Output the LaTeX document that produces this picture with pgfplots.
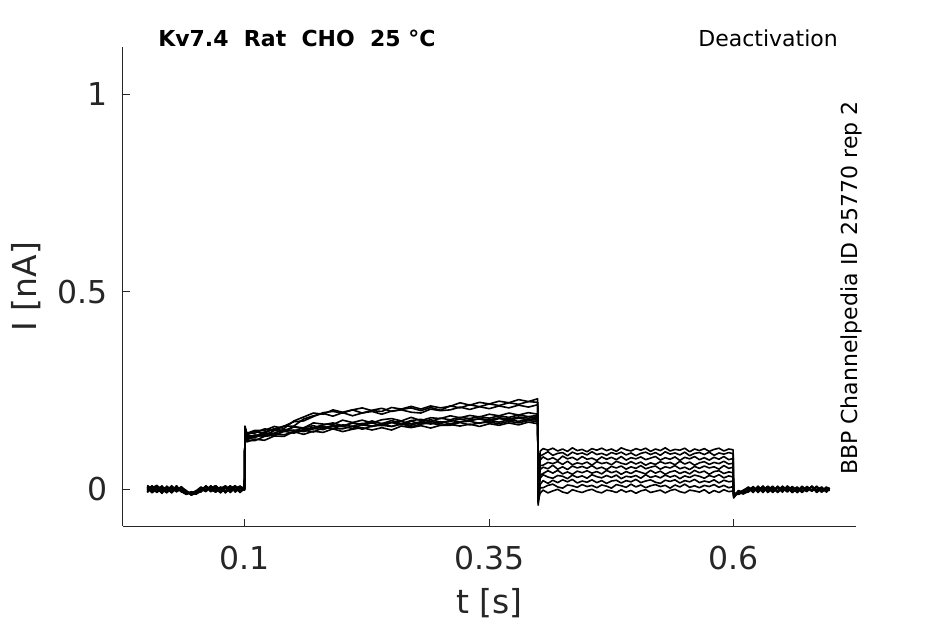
\documentclass[border=0pt]{standalone}
\usepackage{pgfplots}
\pgfplotsset{compat=1.18}
\usepackage{pgfplotstable}
\usepackage{fontspec}
\setmainfont{DejaVu Sans}
\definecolor{axgray}{HTML}{262626}

\pgfplotstableread{
t a b c d e f g h i j
0.000 0.006 -0.004 0.009 0.000 -0.007 0.003 0.010 -0.008 0.005 -0.002
0.005 -0.005 0.008 -0.002 0.007 0.004 -0.009 0.001 0.006 -0.006 0.009
0.010 0.003 -0.007 0.006 -0.004 0.010 0.002 -0.008 0.003 0.008 -0.005
0.015 -0.009 0.002 -0.005 0.009 -0.003 0.007 0.005 -0.010 0.000 0.006
0.020 0.008 -0.003 0.003 -0.008 0.006 -0.005 -0.002 0.004 -0.009 0.001
0.025 -0.002 0.009 -0.008 0.002 -0.009 0.008 0.007 -0.004 0.006 -0.008
0.030 0.005 -0.006 0.007 -0.006 0.003 -0.002 -0.006 0.009 -0.003 0.004
0.035 -0.006 0.003 -0.003 0.005 -0.005 0.004 0.003 -0.007 0.007 -0.006
0.040 -0.004 -0.009 -0.010 -0.003 -0.012 -0.006 -0.011 -0.005 -0.008 -0.013
0.045 -0.013 -0.007 -0.011 -0.015 -0.006 -0.012 -0.009 -0.014 -0.010 -0.007
0.050 -0.006 -0.012 -0.004 -0.009 -0.011 -0.003 -0.010 -0.006 -0.012 -0.008
0.055 0.004 -0.005 0.006 -0.002 0.001 -0.007 0.005 -0.003 0.002 -0.004
0.060 -0.003 0.007 -0.004 0.008 -0.006 0.005 -0.002 0.007 -0.005 0.009
0.065 0.007 -0.002 0.008 -0.005 0.009 -0.003 0.008 -0.006 0.004 -0.001
0.070 -0.007 0.005 -0.006 0.003 -0.004 0.009 -0.005 0.002 0.009 -0.007
0.075 0.002 -0.008 0.004 -0.009 0.005 -0.001 0.006 -0.008 -0.003 0.005
0.080 0.009 0.003 -0.007 0.006 -0.008 0.006 -0.004 0.005 0.006 -0.009
0.085 -0.004 0.008 0.002 -0.003 0.007 -0.008 0.009 -0.002 -0.007 0.003
0.090 0.005 -0.005 0.009 0.004 -0.002 0.004 -0.007 0.008 0.003 0.008
0.095 -0.008 0.006 -0.003 -0.007 0.008 -0.005 0.003 -0.006 0.008 -0.004
0.0995 0.003 -0.002 0.005 0.002 0.000 0.006 -0.002 0.004 0.001 -0.001
0.1000 0.145 0.150 0.148 0.155 0.152 0.158 0.150 0.156 0.160 0.154
0.1020 0.120 0.124 0.126 0.128 0.131 0.132 0.136 0.138 0.141 0.142
0.110 0.127 0.123 0.132 0.137 0.131 0.137 0.134 0.146 0.142 0.149
0.120 0.124 0.134 0.139 0.134 0.142 0.135 0.145 0.143 0.153 0.149
0.130 0.135 0.141 0.136 0.137 0.142 0.149 0.153 0.153 0.149 0.159
0.140 0.134 0.138 0.147 0.148 0.152 0.146 0.148 0.160 0.160 0.154
0.150 0.146 0.145 0.142 0.150 0.147 0.158 0.159 0.160 0.171 0.173
0.160 0.139 0.150 0.151 0.146 0.156 0.153 0.155 0.178 0.173 0.183
0.170 0.147 0.145 0.154 0.153 0.161 0.156 0.168 0.186 0.184 0.193
0.180 0.144 0.156 0.151 0.160 0.154 0.163 0.165 0.192 0.194 0.190
0.190 0.153 0.154 0.160 0.153 0.162 0.168 0.164 0.185 0.197 0.201
0.200 0.146 0.153 0.159 0.163 0.159 0.161 0.175 0.194 0.193 0.195
0.210 0.152 0.160 0.154 0.159 0.169 0.167 0.169 0.186 0.201 0.201
0.220 0.156 0.152 0.163 0.167 0.163 0.165 0.175 0.193 0.193 0.206
0.230 0.150 0.160 0.159 0.159 0.168 0.173 0.168 0.197 0.200 0.199
0.240 0.156 0.162 0.167 0.165 0.161 0.166 0.176 0.190 0.205 0.197
0.250 0.150 0.159 0.159 0.169 0.169 0.174 0.179 0.198 0.197 0.207
0.260 0.160 0.166 0.165 0.163 0.172 0.166 0.173 0.201 0.202 0.203
0.270 0.156 0.158 0.162 0.172 0.165 0.174 0.182 0.195 0.206 0.210
0.280 0.161 0.165 0.170 0.166 0.171 0.177 0.174 0.193 0.199 0.203
0.290 0.155 0.168 0.165 0.172 0.176 0.171 0.181 0.203 0.207 0.211
0.300 0.162 0.162 0.171 0.166 0.170 0.180 0.179 0.199 0.200 0.206
0.310 0.164 0.162 0.166 0.175 0.172 0.176 0.186 0.201 0.211 0.210
0.320 0.160 0.169 0.171 0.170 0.178 0.182 0.181 0.208 0.206 0.219
0.330 0.165 0.163 0.172 0.176 0.173 0.179 0.187 0.202 0.214 0.213
0.340 0.159 0.168 0.167 0.178 0.179 0.184 0.183 0.209 0.209 0.220
0.350 0.166 0.170 0.174 0.172 0.176 0.180 0.190 0.204 0.216 0.216
0.360 0.162 0.166 0.170 0.179 0.181 0.186 0.186 0.211 0.212 0.223
0.370 0.168 0.172 0.176 0.175 0.178 0.182 0.193 0.206 0.219 0.219
0.380 0.163 0.168 0.172 0.180 0.183 0.188 0.188 0.213 0.215 0.227
0.390 0.170 0.174 0.177 0.176 0.180 0.184 0.194 0.208 0.222 0.222
0.3995 0.166 0.171 0.175 0.181 0.184 0.187 0.190 0.214 0.220 0.229
0.4000 -0.030 -0.025 -0.040 -0.020 -0.035 -0.015 -0.028 -0.010 -0.032 -0.018
0.4020 -0.010 0.004 0.012 0.028 0.036 0.050 0.060 0.074 0.084 0.096
0.405 -0.002 0.004 0.022 0.037 0.040 0.056 0.061 0.082 0.088 0.103
0.410 -0.009 0.010 0.015 0.031 0.047 0.052 0.068 0.075 0.095 0.099
0.415 -0.004 0.013 0.023 0.028 0.041 0.061 0.065 0.080 0.086 0.104
0.420 0.000 0.006 0.017 0.035 0.048 0.051 0.070 0.073 0.091 0.097
0.425 -0.007 0.003 0.024 0.033 0.039 0.057 0.063 0.084 0.093 0.102
0.430 -0.010 0.011 0.019 0.027 0.044 0.050 0.071 0.077 0.085 0.096
0.435 -0.001 0.009 0.025 0.036 0.038 0.059 0.062 0.081 0.094 0.105
0.440 -0.005 0.005 0.016 0.030 0.046 0.054 0.067 0.074 0.089 0.098
0.445 -0.008 0.012 0.021 0.034 0.042 0.058 0.064 0.083 0.092 0.101
0.450 -0.003 0.007 0.018 0.028 0.047 0.053 0.069 0.076 0.087 0.095
0.455 0.000 0.010 0.024 0.037 0.041 0.060 0.061 0.079 0.095 0.103
0.460 -0.006 0.004 0.017 0.032 0.045 0.052 0.070 0.073 0.088 0.099
0.465 -0.009 0.011 0.022 0.029 0.039 0.056 0.065 0.082 0.091 0.104
0.470 -0.002 0.008 0.015 0.035 0.048 0.050 0.068 0.076 0.086 0.098
0.475 -0.004 0.003 0.021 0.030 0.042 0.058 0.062 0.081 0.093 0.102
0.480 -0.008 0.012 0.023 0.036 0.046 0.054 0.071 0.075 0.089 0.096
0.485 -0.001 0.009 0.016 0.027 0.038 0.059 0.066 0.083 0.094 0.105
0.490 -0.007 0.005 0.022 0.033 0.045 0.051 0.063 0.074 0.087 0.100
0.495 -0.003 0.013 0.019 0.031 0.040 0.057 0.070 0.080 0.092 0.097
0.500 -0.010 0.006 0.025 0.035 0.047 0.053 0.064 0.077 0.085 0.103
0.505 -0.004 0.011 0.017 0.028 0.043 0.060 0.069 0.082 0.091 0.099
0.510 -0.001 0.004 0.021 0.037 0.039 0.052 0.061 0.075 0.094 0.104
0.515 -0.008 0.009 0.024 0.030 0.048 0.056 0.067 0.079 0.088 0.096
0.520 -0.005 0.012 0.018 0.034 0.041 0.059 0.063 0.083 0.093 0.102
0.525 -0.002 0.007 0.015 0.029 0.046 0.051 0.070 0.074 0.086 0.098
0.530 -0.009 0.010 0.023 0.036 0.038 0.057 0.065 0.080 0.095 0.105
0.535 -0.003 0.003 0.020 0.031 0.044 0.054 0.068 0.076 0.089 0.097
0.540 0.000 0.011 0.024 0.035 0.047 0.060 0.062 0.082 0.092 0.101
0.545 -0.006 0.006 0.016 0.027 0.040 0.052 0.071 0.073 0.087 0.099
0.550 -0.009 0.013 0.022 0.034 0.045 0.056 0.064 0.081 0.094 0.104
0.555 -0.002 0.005 0.019 0.030 0.039 0.050 0.069 0.077 0.085 0.095
0.560 -0.004 0.009 0.025 0.036 0.048 0.058 0.061 0.083 0.091 0.102
0.565 -0.007 0.004 0.017 0.033 0.042 0.053 0.067 0.075 0.093 0.098
0.570 -0.001 0.010 0.021 0.028 0.046 0.059 0.070 0.080 0.088 0.103
0.575 -0.010 0.007 0.018 0.035 0.038 0.054 0.063 0.074 0.094 0.096
0.580 -0.003 0.012 0.024 0.031 0.045 0.057 0.068 0.081 0.086 0.101
0.585 -0.008 0.005 0.016 0.037 0.047 0.051 0.065 0.076 0.092 0.104
0.590 -0.001 0.010 0.023 0.029 0.040 0.060 0.071 0.083 0.089 0.097
0.595 -0.006 0.004 0.019 0.034 0.044 0.053 0.064 0.075 0.093 0.102
0.5995 -0.004 0.007 0.021 0.031 0.042 0.056 0.066 0.078 0.090 0.100
0.6000 -0.015 -0.020 -0.012 -0.022 -0.010 -0.018 -0.014 -0.020 -0.011 -0.016
0.605 -0.009 -0.004 -0.012 -0.006 -0.010 -0.003 -0.011 -0.007 -0.013 -0.005
0.610 -0.003 -0.010 -0.005 -0.011 -0.002 -0.009 -0.004 -0.012 -0.006 -0.008
0.615 0.004 -0.006 0.002 -0.003 0.005 -0.007 0.003 -0.002 0.006 -0.004
0.620 -0.006 0.005 -0.007 0.006 -0.004 0.004 -0.008 0.005 -0.003 0.007
0.625 0.007 -0.003 0.005 -0.008 0.008 -0.002 0.006 -0.007 0.004 -0.006
0.630 -0.004 0.008 -0.002 0.004 -0.007 0.007 -0.003 0.008 -0.008 0.003
0.635 0.005 -0.007 0.008 -0.002 0.003 -0.008 0.007 -0.004 0.007 -0.002
0.640 -0.008 0.002 -0.005 0.007 -0.006 0.003 -0.006 0.006 -0.002 0.008
0.645 0.003 -0.005 0.006 -0.006 0.008 -0.006 0.004 -0.008 0.005 -0.007
0.650 -0.005 0.007 -0.003 0.003 -0.003 0.008 -0.007 0.003 -0.006 0.004
0.655 0.008 -0.002 0.004 -0.007 0.005 -0.004 0.008 -0.005 0.008 -0.003
0.660 -0.002 0.006 -0.008 0.005 -0.008 0.005 -0.002 0.007 -0.004 0.006
0.665 0.006 -0.008 0.003 -0.004 0.002 -0.007 0.005 -0.003 0.003 -0.008
0.670 -0.007 0.004 -0.006 0.008 -0.005 0.002 -0.008 0.004 -0.007 0.005
0.675 0.004 -0.004 0.007 -0.003 0.007 -0.005 0.003 -0.006 0.006 -0.002
0.680 -0.003 0.008 -0.004 0.006 -0.002 0.007 -0.005 0.008 -0.003 0.007
0.685 0.007 -0.006 0.005 -0.008 0.006 -0.003 0.007 -0.002 0.008 -0.005
0.690 -0.006 0.003 -0.007 0.002 -0.007 0.006 -0.004 0.005 -0.005 0.003
0.695 0.005 -0.005 0.002 -0.005 0.004 -0.006 0.006 -0.007 0.002 -0.006
0.698 -0.002 0.004 -0.003 0.004 -0.003 0.003 -0.001 0.002 -0.004 0.004
}\traces

\begin{document}
\begin{tikzpicture}
\path[use as bounding box] (-123pt,-98pt) rectangle (822pt,526pt);
\begin{axis}[
  scale only axis,
  width=733pt, height=479pt,
  at={(0,0)}, anchor=south west,
  xmin=-0.0248, xmax=0.7252,
  ymin=-0.0928, ymax=1.119,
  axis x line=bottom, axis y line=left,
  axis line style={-, color=axgray, line width=1pt},
  tick align=inside,
  major tick length=7pt,
  tick style={color=axgray, line width=1pt},
  xtick={0.1,0.35,0.6}, xticklabels={0.1,0.35,0.6},
  ytick={0,0.5,1}, yticklabels={0,0.5,1},
  /pgf/number format/assume math mode=true,
  ticklabel style={font=\fontsize{31.5}{36}\selectfont, color=axgray},
  xticklabel style={yshift=-17pt},
  yticklabel style={xshift=-12pt},
  every axis x label/.style={at={(rel axis cs:0.5,0)}, anchor=base, yshift=-87pt, font=\fontsize{33}{38}\selectfont, color=axgray},
  every axis y label/.style={at={(rel axis cs:0,0.5)}, xshift=-86pt, rotate=90, anchor=base, font=\fontsize{33}{38}\selectfont, color=axgray},
  xlabel={t [s]}, ylabel={I [nA]},
  clip=false,
]
\foreach \c in {a,b,c,d,e,f,g,h,i,j}{
  \addplot[black, line width=1.6pt, line join=round] table[x=t, y=\c] {\traces};
}
\node[anchor=base west, font=\bfseries\fontsize{22}{26}\selectfont, inner sep=0pt] at (axis cs:0.0111,1.119) {Kv7.4\ \ Rat\ \ CHO\ \ 25 °C};
\node[anchor=base east, font=\fontsize{22}{26}\selectfont, inner sep=0pt] at (rel axis cs:0.9755,1) {Deactivation};
\node[anchor=base west, rotate=90, font=\fontsize{22}{26}\selectfont, inner sep=0pt] at (rel axis cs:1.0015,0.1065) {BBP Channelpedia ID 25770 rep 2};
\end{axis}
\end{tikzpicture}
\end{document}
